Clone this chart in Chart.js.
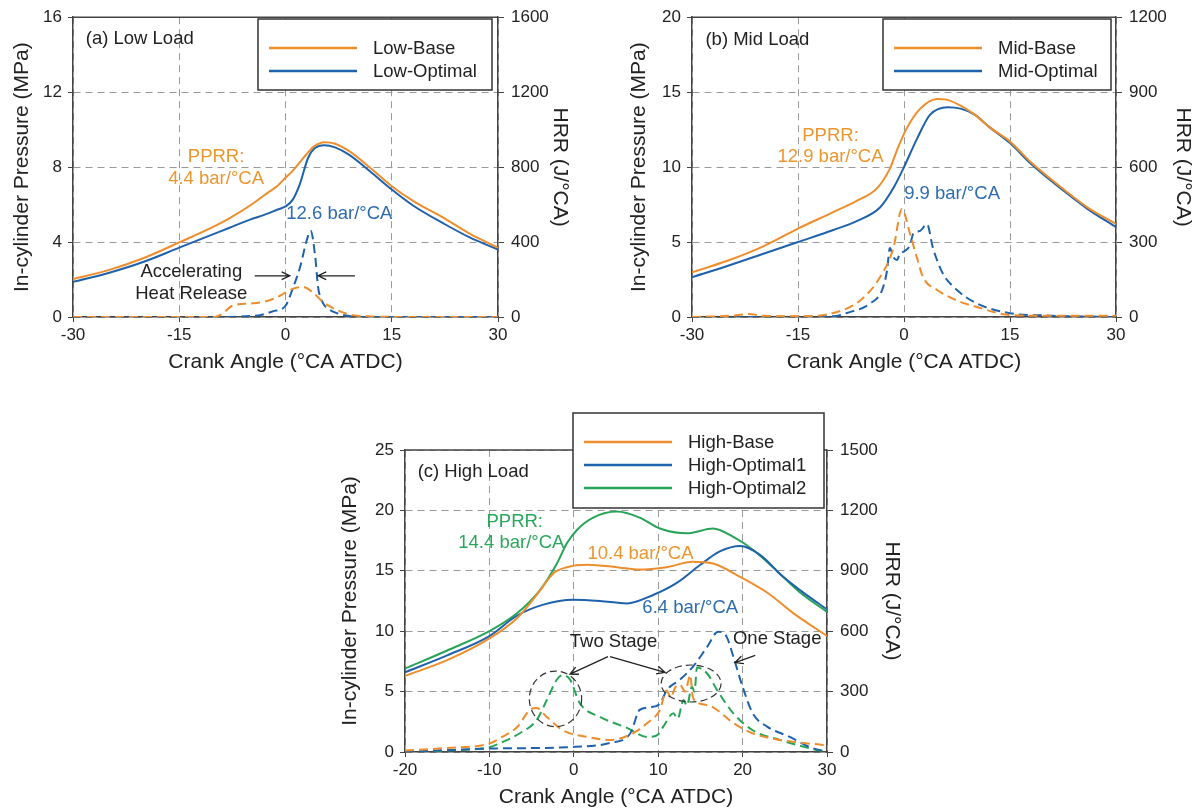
<!DOCTYPE html>
<html>
<head>
<meta charset="utf-8">
<script src="https://cdn.jsdelivr.net/npm/chart.js@4.4.1/dist/chart.umd.min.js"></script>
<style>
  html, body { margin: 0; padding: 0; background: #fff; width: 1194px; height: 812px; overflow: hidden; }
  canvas { position: absolute; }
  #cLow  { left: 0;     top: 0; }
  #cMid  { left: 594px; top: 0; }
  #cHigh { left: 300px; top: 400px; }
</style>
</head>
<body>
<canvas id="cLow" width="600" height="380"></canvas>
<canvas id="cMid" width="600" height="380"></canvas>
<canvas id="cHigh" width="620" height="412"></canvas>
<script>
// ---- (a) low load ----
const lowBaseAngle = [-30,-25,-20,-15,-10,-8,-5,-3,-1,0,1,2,3,4,5.5,7,9,12,15,18,22.5,26,30];
const lowBaseP     = [2.03,2.5,3.15,3.98,4.85,5.25,5.95,6.5,7.05,7.43,7.8,8.25,8.7,9.1,9.33,9.25,8.85,7.95,6.98,6.2,5.25,4.45,3.7];
const lowOptAngle  = [-30,-25,-20,-15,-10,-8,-5,-3,-1,0,1,2,3.2,4.1,5.5,7,9,12,15,18,22.5,26,30];
const lowOptP      = [1.87,2.35,2.95,3.7,4.45,4.75,5.2,5.45,5.75,5.9,6.25,7.07,8.5,9.0,9.17,9.05,8.65,7.75,6.8,5.95,4.95,4.25,3.6];
const lowBaseHrrAngle = [-30,-15,-10,-9,-7.5,-5,-3,-1.5,0,1,2.5,3.9,5.3,7.3,9.5,12,20,30];
const lowBaseHrr      = [0,0,0,15,60,72,82,100,130,150,160,130,80,37,10,3,0,0];
const lowOptHrrAngle  = [-30,-10,-5,-3.6,-1.8,0,1.1,2.05,3,3.55,4.2,4.6,5.3,6,7.3,9,12,30];
const lowOptHrr       = [0,0,5,10,30,60,160,265,410,460,320,160,74,45,20,5,0,0];

// ---- (b) mid load ----
const midBaseAngle = [-30,-25,-20,-15,-10,-6.7,-3.8,-2,-0.85,0.4,2.3,4.7,6,8,10,12,15,18,22.5,26,30];
const midBaseP     = [2.98,3.75,4.7,5.9,7.0,7.75,8.6,9.9,11.3,12.6,13.9,14.55,14.5,14.1,13.5,12.7,11.7,10.3,8.55,7.3,6.2];
const midOptAngle  = [-30,-25,-20,-15,-10,-6.7,-3.4,-1.5,-0.1,1.85,3.7,6.2,8,10,12,15,18,22.5,26,30];
const midOptP      = [2.65,3.4,4.2,5.0,5.8,6.4,7.3,8.6,9.9,11.9,13.5,14.0,13.9,13.5,12.7,11.6,10.2,8.45,7.2,6.0];
const midBaseHrrAngle = [-30,-24,-22,-20,-15,-10,-6.2,-3.4,-1.5,-0.3,0.85,1.8,2.7,4.7,7.5,10.3,15,20,25,30];
const midBaseHrr      = [0,6,12,5,3,16,66,159,276,432,333,240,159,108,66,40,8,5,5,5];
const midOptHrrAngle  = [-30,-10,-8.1,-4.8,-3.1,-2.4,-2,-1.5,-1,-0.6,0.1,0.85,1.3,2.3,3.25,4.1,5.5,7.5,10.3,15,20,30];
const midOptHrr       = [0,3,16,54,108,186,276,240,228,252,264,288,333,345,372,276,174,108,54,15,6,0];

// ---- (c) high load ----
const highBaseAngle = [-20,-15,-10,-6.7,-4.4,-2.4,-0.8,1.6,5.1,7.8,11,14.1,16.5,19.7,22.9,26,30];
const highBaseP     = [6.3,7.6,9.4,11.1,13.0,14.8,15.3,15.5,15.3,15.1,15.3,15.75,15.6,14.5,13.2,11.5,9.6];
const highOpt1Angle = [-20,-15,-10,-6.7,-3.6,-0.1,3.1,6.3,9.4,12.2,15,17.3,19.7,22.1,24.8,27,30];
const highOpt1P     = [6.6,8.0,9.6,11.3,12.2,12.6,12.5,12.3,13.0,14.0,15.5,16.6,17.05,16.3,14.5,13.3,11.8];
const highOpt2Angle = [-20,-15,-10,-6.7,-4,-2,-0.8,0.4,2.3,5.1,7.8,10.2,13.4,16.5,18.9,21.3,24.8,27,30];
const highOpt2P     = [6.9,8.4,10.0,11.5,13.4,15.6,17.3,18.4,19.4,19.9,19.4,18.5,18.1,18.5,17.8,16.7,14.5,13.1,11.6];
const highBaseHrrAngle = [-20,-15,-10,-8.7,-6.7,-5.2,-4.4,-3.2,-1.3,1.6,4.3,7,8.7,10.2,11,11.5,12,12.6,13.2,13.8,14.1,15,16.5,18.9,21.2,24.4,30];
const highBaseHrr      = [8,20,42,70,124,209,218,174,108,75,60,93,144,209,306,270,320,333,300,382,273,240,222,144,93,60,33];
const highOpt1HrrAngle = [-20,-10,-0.8,4.3,6.7,7.8,9,10.2,11,12.6,14.1,15.8,17.1,18.1,18.9,20,21.2,22.9,25.6,28,30];
const highOpt1Hrr      = [0,17,24,45,93,209,222,240,306,360,423,522,597,573,474,324,192,126,75,24,0];
const highOpt2HrrAngle = [-20,-15,-10,-8.7,-6.4,-4.4,-3.2,-2,-1.3,-0.45,0.7,3.1,6.3,8.7,9.9,10.6,11.8,12.3,13,13.4,14,14.3,14.6,15.8,17,18.9,21.2,24.4,28,30];
const highOpt2Hrr      = [0,8,24,45,93,159,258,360,382,360,243,174,120,75,84,126,192,165,258,230,324,300,420,390,306,192,108,60,18,0];

const ORANGE = '#EE8D2C', BLUE = '#1F62AC', GREEN = '#27A457';
const ORANGE_T = '#EC962F', BLUE_T = '#2E6CB0', GREEN_T = '#2BA75C';

Chart.defaults.font.family = "'Liberation Sans', Arial, sans-serif";
Chart.defaults.color = '#222';

function pts(xs, ys) { return xs.map((x, i) => ({ x: x, y: ys[i] })); }

function solid(label, xs, ys, color) {
  return { label, data: pts(xs, ys), borderColor: color, borderWidth: 2, pointRadius: 0,
           cubicInterpolationMode: 'monotone', yAxisID: 'y' };
}
function dashed(label, xs, ys, color) {
  return { label, data: pts(xs, ys), borderColor: color, borderWidth: 2, pointRadius: 0,
           borderDash: [9, 5], cubicInterpolationMode: 'monotone', yAxisID: 'y2' };
}

// frame top, texts, arrows, circles and the boxed legend
const annotPlugin = {
  id: 'annot',
  afterDatasetsDraw(chart, args, o) {
    const { ctx, chartArea: ca, scales } = chart;
    const px = v => scales.x.getPixelForValue(v);
    const py = v => scales.y.getPixelForValue(v);
    ctx.save();
    ctx.strokeStyle = '#444'; ctx.lineWidth = 1.5;
    ctx.beginPath(); ctx.moveTo(ca.left, ca.top); ctx.lineTo(ca.right, ca.top); ctx.stroke();

    ctx.strokeStyle = '#333'; ctx.lineWidth = 1.2;
    (o.ellipses || []).forEach(e => {
      const cx = px(e.x), cy = py(e.y);
      const rx = Math.abs(px(e.x + e.rx) - cx), ry = Math.abs(py(e.y + e.ry) - cy);
      ctx.setLineDash([7, 4]);
      ctx.beginPath(); ctx.ellipse(cx, cy, rx, ry, 0, 0, Math.PI * 2); ctx.stroke();
    });
    ctx.setLineDash([]);
    ctx.strokeStyle = '#222'; ctx.lineWidth = 1.3;
    (o.arrows || []).forEach(a => {
      const x1 = px(a[0]), y1 = py(a[1]), x2 = px(a[2]), y2 = py(a[3]);
      const ang = Math.atan2(y2 - y1, x2 - x1);
      ctx.beginPath(); ctx.moveTo(x1, y1); ctx.lineTo(x2, y2);
      ctx.moveTo(x2 - 9 * Math.cos(ang - 0.45), y2 - 9 * Math.sin(ang - 0.45));
      ctx.lineTo(x2, y2);
      ctx.lineTo(x2 - 9 * Math.cos(ang + 0.45), y2 - 9 * Math.sin(ang + 0.45));
      ctx.stroke();
    });

    ctx.font = "18.5px 'Liberation Sans', Arial, sans-serif";
    ctx.textBaseline = 'middle';
    (o.texts || []).forEach(t => {
      ctx.fillStyle = t.c || '#222';
      ctx.textAlign = t.align || 'center';
      ctx.fillText(t.t, px(t.x), py(t.y));
    });

    const lg = o.legend;
    if (lg) {
      ctx.fillStyle = '#fff';
      ctx.fillRect(lg.x, lg.y, lg.w, lg.h);
      ctx.strokeStyle = '#333'; ctx.lineWidth = 1.5;
      ctx.strokeRect(lg.x, lg.y, lg.w, lg.h);
      ctx.textAlign = 'left';
      chart.data.datasets.filter(d => d.yAxisID === 'y').forEach((d, i) => {
        const yy = lg.y + 29 + i * 23;
        ctx.strokeStyle = d.borderColor; ctx.lineWidth = 2.5;
        ctx.beginPath(); ctx.moveTo(lg.x + 11, yy); ctx.lineTo(lg.x + 99, yy); ctx.stroke();
        ctx.fillStyle = '#222';
        ctx.fillText(d.label, lg.x + 115, yy + 1);
      });
    }
    ctx.restore();
  }
};

function makeChart(id, s) {
  const tickFont = { size: 17 };
  const titleFont = { size: 21, lineHeight: 1 };
  return new Chart(document.getElementById(id), {
    type: 'line',
    data: { datasets: s.datasets },
    options: {
      responsive: false, animation: false,
      layout: { padding: { top: s.top, left: 0, right: 0, bottom: 0 } },
      plugins: { legend: { display: false }, tooltip: { enabled: false }, annot: s.annot },
      scales: {
        x: {
          type: 'linear', min: s.xMin, max: s.xMax,
          ticks: { stepSize: s.xStep, font: tickFont, padding: 3, callback: v => String(v) },
          grid: { color: '#9a9a9a', lineWidth: 1, tickColor: '#444', tickLength: 5 },
          border: { color: '#444', width: 1.5, dash: [7, 5] },
          title: { display: true, text: 'Crank Angle (°CA ATDC)', font: titleFont, padding: { top: 0, bottom: s.xTitlePad } },
          afterFit: sc => { sc.height = s.xH; }
        },
        y: {
          position: 'left', min: 0, max: s.yMax,
          ticks: { stepSize: s.yStep, font: tickFont, padding: 6, callback: v => String(v) },
          grid: { color: '#9a9a9a', lineWidth: 1, tickColor: '#444', tickLength: 5 },
          border: { color: '#444', width: 1.5, dash: [7, 5] },
          title: { display: true, text: 'In-cylinder Pressure (MPa)', font: titleFont, padding: { top: s.yTitlePad, bottom: 0 } },
          afterFit: sc => { sc.width = s.yW; }
        },
        y2: {
          position: 'right', min: 0, max: s.y2Max,
          ticks: { stepSize: s.y2Step, font: tickFont, padding: 7, callback: v => String(v) },
          grid: { drawOnChartArea: false, tickColor: '#444', tickLength: 6 },
          border: { color: '#444', width: 1.5 },
          title: { display: true, text: 'HRR (J/°CA)', font: titleFont, padding: { top: s.y2TitlePad, bottom: 0 } },
          afterFit: sc => { sc.width = s.y2W; }
        }
      }
    },
    plugins: [annotPlugin]
  });
}

makeChart('cLow', {
  top: 15, xH: 63, yW: 73, y2W: 102, xTitlePad: 7.5, yTitlePad: 11.5, y2TitlePad: 29.5,
  xMin: -30, xMax: 30, xStep: 15, yMax: 16, yStep: 4, y2Max: 1600, y2Step: 400,
  datasets: [
    solid('Low-Base', lowBaseAngle, lowBaseP, ORANGE),
    solid('Low-Optimal', lowOptAngle, lowOptP, BLUE),
    dashed('Low-Base HRR', lowBaseHrrAngle, lowBaseHrr, ORANGE),
    dashed('Low-Optimal HRR', lowOptHrrAngle, lowOptHrr, BLUE)
  ],
  annot: {
    legend: { x: 258, y: 19, w: 234, h: 71 },
    texts: [
      { t: '(a) Low Load', x: -28.2, y: 14.85, align: 'left' },
      { t: 'PPRR:', x: -9.8, y: 8.52, c: ORANGE_T },
      { t: '4.4 bar/°CA', x: -9.8, y: 7.37, c: ORANGE_T },
      { t: '12.6 bar/°CA', x: 7.6, y: 5.48, c: BLUE_T },
      { t: 'Accelerating', x: -13.3, y: 2.39 },
      { t: 'Heat Release', x: -13.3, y: 1.24 }
    ],
    arrows: [[-4.35, 2.2, 0.6, 2.2], [9.8, 2.2, 4.6, 2.2]]
  }
});

makeChart('cMid', {
  top: 15, xH: 63, yW: 98, y2W: 78, xTitlePad: 7.5, yTitlePad: 34.5, y2TitlePad: 0.5,
  xMin: -30, xMax: 30, xStep: 15, yMax: 20, yStep: 5, y2Max: 1200, y2Step: 300,
  datasets: [
    solid('Mid-Base', midBaseAngle, midBaseP, ORANGE),
    solid('Mid-Optimal', midOptAngle, midOptP, BLUE),
    dashed('Mid-Base HRR', midBaseHrrAngle, midBaseHrr, ORANGE),
    dashed('Mid-Optimal HRR', midOptHrrAngle, midOptHrr, BLUE)
  ],
  annot: {
    legend: { x: 289, y: 19, w: 228, h: 71 },
    texts: [
      { t: '(b) Mid Load', x: -28.1, y: 18.5, align: 'left' },
      { t: 'PPRR:', x: -10.4, y: 12.1, c: ORANGE_T },
      { t: '12.9 bar/°CA', x: -10.4, y: 10.7, c: ORANGE_T },
      { t: '9.9 bar/°CA', x: 6.8, y: 8.2, c: BLUE_T }
    ]
  }
});

makeChart('cHigh', {
  top: 50, xH: 60, yW: 105, y2W: 93, xTitlePad: 4.5, yTitlePad: 39.5, y2TitlePad: 17.5,
  xMin: -20, xMax: 30, xStep: 10, yMax: 25, yStep: 5, y2Max: 1500, y2Step: 300,
  datasets: [
    solid('High-Base', highBaseAngle, highBaseP, ORANGE),
    solid('High-Optimal1', highOpt1Angle, highOpt1P, BLUE),
    solid('High-Optimal2', highOpt2Angle, highOpt2P, GREEN),
    dashed('High-Base HRR', highBaseHrrAngle, highBaseHrr, ORANGE),
    dashed('High-Optimal1 HRR', highOpt1HrrAngle, highOpt1Hrr, BLUE),
    dashed('High-Optimal2 HRR', highOpt2HrrAngle, highOpt2Hrr, GREEN)
  ],
  annot: {
    legend: { x: 273, y: 13, w: 251, h: 95 },
    texts: [
      { t: '(c) High Load', x: -18.5, y: 23.2, align: 'left' },
      { t: 'PPRR:', x: -7.0, y: 19.06, c: GREEN_T },
      { t: '14.4 bar/°CA', x: -7.4, y: 17.27, c: GREEN_T },
      { t: '10.4 bar/°CA', x: 7.9, y: 16.4, c: ORANGE_T },
      { t: '6.4 bar/°CA', x: 13.8, y: 11.9, c: BLUE_T },
      { t: 'Two Stage', x: 4.7, y: 9.1 },
      { t: 'One Stage', x: 24.1, y: 9.4 }
    ],
    arrows: [[4.05, 7.9, -0.45, 6.45], [4.3, 7.9, 10.8, 6.6], [21.5, 8.0, 19.1, 7.4]],
    ellipses: [{ x: -2.17, y: 4.4, rx: 3.1, ry: 2.3 }, { x: 13.9, y: 5.67, rx: 3.55, ry: 1.53 }]
  }
});
</script>
</body>
</html>
